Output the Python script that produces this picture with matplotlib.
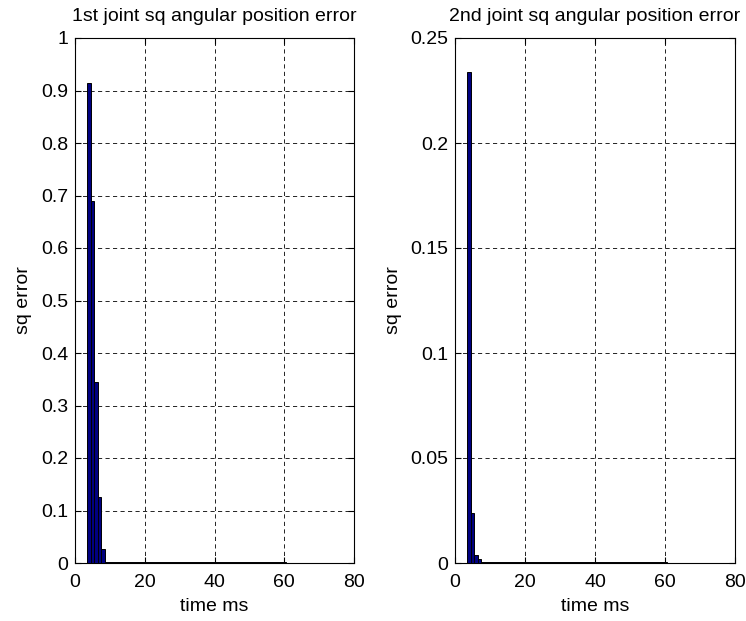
import matplotlib
matplotlib.use('Agg')
import matplotlib.pyplot as plt

plt.rcParams['font.family'] = ['Liberation Sans', 'DejaVu Sans']
plt.rcParams['font.size'] = 14

# time steps (ms) of the bars
t1 = list(range(4, 61))
t2 = list(range(4, 61))

# squared error of joint 1
err1 = [0.915, 0.69, 0.345, 0.126, 0.026,
        0.002, 0.002, 0.002, 0.002, 0.002, 0.002, 0.002, 0.002, 0.002, 0.002,
        0.002, 0.002, 0.002, 0.002, 0.002, 0.002, 0.002, 0.002, 0.002, 0.002,
        0.002, 0.002, 0.002, 0.002, 0.002, 0.002, 0.002, 0.002, 0.002, 0.002,
        0.002, 0.002, 0.002, 0.002, 0.002, 0.002, 0.002, 0.002, 0.002, 0.002,
        0.002, 0.002, 0.002, 0.002, 0.002, 0.002, 0.002, 0.002, 0.002, 0.002,
        0.002, 0.002]

# squared error of joint 2
err2 = [0.234, 0.024, 0.004, 0.002,
        0.0006, 0.0006, 0.0006, 0.0006, 0.0006, 0.0006, 0.0006, 0.0006, 0.0006,
        0.0006, 0.0006, 0.0006, 0.0006, 0.0006, 0.0006, 0.0006, 0.0006, 0.0006,
        0.0006, 0.0006, 0.0006, 0.0006, 0.0006, 0.0006, 0.0006, 0.0006, 0.0006,
        0.0006, 0.0006, 0.0006, 0.0006, 0.0006, 0.0006, 0.0006, 0.0006, 0.0006,
        0.0006, 0.0006, 0.0006, 0.0006, 0.0006, 0.0006, 0.0006, 0.0006, 0.0006,
        0.0006, 0.0006, 0.0006, 0.0006, 0.0006, 0.0006, 0.0006, 0.0006]

titles = ['1st joint sq angular position error', '2nd joint sq angular position error']
yticks1 = [0, 0.1, 0.2, 0.3, 0.4, 0.5, 0.6, 0.7, 0.8, 0.9, 1]
yticks2 = [0, 0.05, 0.1, 0.15, 0.2, 0.25]
xticks = [0, 20, 40, 60, 80]

fig = plt.figure(figsize=(7.46, 6.21), dpi=100)
ax1 = fig.add_axes([75 / 746, 58 / 621, 279 / 746, 525 / 621])
ax2 = fig.add_axes([455 / 746, 58 / 621, 280 / 746, 525 / 621])

for ax, t, e, title, yt in [(ax1, t1, err1, titles[0], yticks1),
                            (ax2, t2, err2, titles[1], yticks2)]:
    ax.bar(t, e, width=1.0, color='#000080', edgecolor='black', linewidth=0.7, zorder=3)
    ax.set_xlim(0, 80)
    ax.set_ylim(yt[0], yt[-1])
    ax.set_xticks(xticks)
    ax.set_yticks(yt)
    ax.set_yticklabels([('%g' % v) for v in yt])
    ax.grid(True, color='black', linestyle=(0, (5, 4)), linewidth=0.6, zorder=1)
    ax.tick_params(direction='in', top=True, right=True, length=4, width=0.8)
    ax.tick_params(axis='x', pad=8)
    ax.tick_params(axis='y', pad=5)
    for s in ax.spines.values():
        s.set_linewidth(0.8)
    ax.set_xlabel('time ms', labelpad=5)
    ax.set_ylabel('sq error', labelpad=6)
    ax.set_title(title, fontsize=14, pad=12)

fig.savefig('out.png', dpi=100)
